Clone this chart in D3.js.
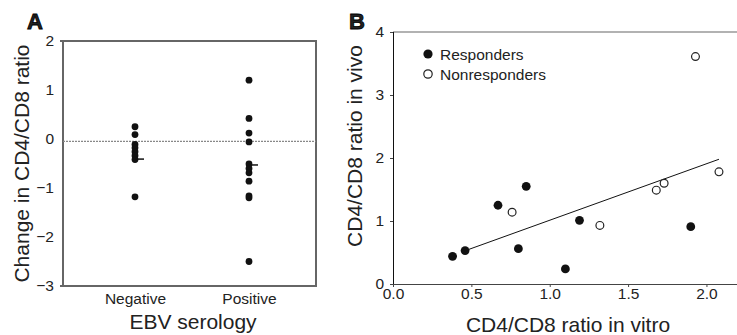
<!DOCTYPE html>
<html>
<head>
<meta charset="utf-8">
<script src="https://cdn.jsdelivr.net/npm/d3@7"></script>
<style>
  body { margin: 0; background: #fff; }
  text { font-family: "Liberation Sans", Arial, sans-serif; fill: #222; }
</style>
</head>
<body>
<script>
// Panneau A : variation du ratio CD4/CD8 selon la sérologie EBV
const categories = ['Negative', 'Positive'];
const negativeValues = [0.25, 0.09, -0.11, -0.18, -0.26, -0.34, -0.42, -1.18];
const positiveValues = [1.2, 0.42, 0.12, -0.06, -0.51, -0.6, -0.69, -0.86, -1.16, -1.2, -2.5];
const medians = [-0.41, -0.53];
const referenceLine = -0.05;
const yTicksA = [2, 1, 0, -1, -2, -3];

// Panneau B : ratio in vitro vs in vivo
const respondersX = [0.38, 0.46, 0.67, 0.80, 0.85, 1.10, 1.19, 1.90];
const respondersY = [0.44, 0.53, 1.25, 0.56, 1.55, 0.24, 1.01, 0.91];
const nonrespondersX = [0.76, 1.32, 1.68, 1.73, 2.08, 1.93];
const nonrespondersY = [1.14, 0.93, 1.49, 1.60, 1.78, 3.61];
const fitX = [0.44, 2.08];
const fitY = [0.51, 1.98];
const xTicksB = [0, 0.5, 1, 1.5, 2];
const yTicksB = [0, 1, 2, 3, 4];

const width = 737;
const height = 335;

const svg = d3.select('body')
  .append('svg')
  .attr('width', width)
  .attr('height', height);

// ---------- Panneau A ----------
const boxA = { left: 63, right: 316, top: 41, bottom: 286 };

const yA = d3.scaleLinear()
  .domain([-3, 2])
  .range([boxA.bottom, boxA.top]);

const xA = d3.scalePoint()
  .domain(categories)
  .range([135, 249]);

const gA = svg.append('g');

// cadre
gA.append('rect')
  .attr('x', boxA.left)
  .attr('y', boxA.top)
  .attr('width', boxA.right - boxA.left)
  .attr('height', boxA.bottom - boxA.top)
  .attr('fill', 'none')
  .attr('stroke', '#666')
  .attr('stroke-width', 2);

// petits traits aux extrémités
gA.selectAll('line.ext')
  .data([2, -3])
  .enter()
  .append('line')
  .attr('x1', boxA.left - 3)
  .attr('x2', boxA.left)
  .attr('y1', d => yA(d))
  .attr('y2', d => yA(d))
  .attr('stroke', '#666')
  .attr('stroke-width', 2);

// ligne pointillée de référence
gA.append('line')
  .attr('x1', boxA.left)
  .attr('x2', boxA.right)
  .attr('y1', yA(referenceLine))
  .attr('y2', yA(referenceLine))
  .attr('stroke', '#888')
  .attr('stroke-width', 1.2)
  .attr('stroke-dasharray', '2,1');

// axe vertical
gA.append('g')
  .attr('transform', `translate(${boxA.left}, 0)`)
  .call(d3.axisLeft(yA).tickValues(yTicksA).tickSize(0).tickPadding(9)
    .tickFormat(d => d < 0 ? '\u2212' + Math.abs(d) : d))
  .call(g => g.select('.domain').remove())
  .call(g => g.selectAll('text').style('font-size', '15.5px').attr('fill', '#222'));

// axe horizontal
gA.append('g')
  .attr('transform', `translate(0, ${boxA.bottom})`)
  .call(d3.axisBottom(xA).tickSize(0).tickPadding(7))
  .call(g => g.select('.domain').remove())
  .call(g => g.selectAll('text').style('font-size', '15.5px').attr('fill', '#222'));

// points
const pointsA = [
  ...negativeValues.map(v => ({ cat: 'Negative', v })),
  ...positiveValues.map(v => ({ cat: 'Positive', v }))
];

gA.append('g')
  .selectAll('circle')
  .data(pointsA)
  .enter()
  .append('circle')
  .attr('cx', d => xA(d.cat))
  .attr('cy', d => yA(d.v))
  .attr('r', 3.4)
  .attr('fill', '#111');

// médianes
gA.append('g')
  .selectAll('line')
  .data(categories)
  .enter()
  .append('line')
  .attr('x1', d => xA(d))
  .attr('x2', d => xA(d) + 9)
  .attr('y1', (d, i) => yA(medians[i]))
  .attr('y2', (d, i) => yA(medians[i]))
  .attr('stroke', '#111')
  .attr('stroke-width', 1.5);

// titres
gA.append('text')
  .attr('transform', `translate(29, ${(boxA.top + boxA.bottom) / 2}) rotate(-90)`)
  .attr('text-anchor', 'middle')
  .style('font-size', '21px')
  .text('Change in CD4/CD8 ratio');

gA.append('text')
  .attr('x', 193)
  .attr('y', 329)
  .attr('text-anchor', 'middle')
  .style('font-size', '21px')
  .text('EBV serology');

gA.append('text')
  .attr('x', 27)
  .attr('y', 29)
  .style('font-size', '22px')
  .style('font-weight', '900')
  .attr('fill', '#000')
  .attr('stroke', '#000')
  .attr('stroke-width', 0.8)
  .text('A');

// ---------- Panneau B ----------
const boxB = { left: 393, right: 737, top: 32, bottom: 284 };

const xB = d3.scaleLinear()
  .domain([0, 2.195])
  .range([boxB.left, boxB.right]);

const yB = d3.scaleLinear()
  .domain([0, 4])
  .range([boxB.bottom, boxB.top]);

const gB = svg.append('g');

// ligne du haut
gB.append('line')
  .attr('x1', boxB.left)
  .attr('x2', boxB.right)
  .attr('y1', boxB.top)
  .attr('y2', boxB.top)
  .attr('stroke', '#999')
  .attr('stroke-width', 1.5);

// axe horizontal
gB.append('g')
  .attr('transform', `translate(0, ${boxB.bottom})`)
  .call(d3.axisBottom(xB).tickValues(xTicksB).tickSize(3).tickPadding(1).tickFormat(d3.format('.1f')))
  .call(g => g.select('.domain').attr('stroke', '#444').attr('d', `M${boxB.left},0.5H${boxB.right}`))
  .call(g => g.selectAll('.tick line').attr('stroke', '#444'))
  .call(g => g.selectAll('text').style('font-size', '15.5px').attr('fill', '#222'));

// axe vertical
gB.append('g')
  .attr('transform', `translate(${boxB.left}, 0)`)
  .call(d3.axisLeft(yB).tickValues(yTicksB).tickSize(3).tickPadding(6).tickFormat(d3.format('d')))
  .call(g => g.select('.domain').attr('stroke', '#111').attr('d', `M0.5,${boxB.top}V${boxB.bottom}`))
  .call(g => g.selectAll('.tick line').attr('stroke', '#444'))
  .call(g => g.selectAll('text').style('font-size', '15.5px').attr('fill', '#222'));

// droite de régression
gB.append('line')
  .attr('x1', xB(fitX[0]))
  .attr('y1', yB(fitY[0]))
  .attr('x2', xB(fitX[1]))
  .attr('y2', yB(fitY[1]))
  .attr('stroke', '#111')
  .attr('stroke-width', 1);

// répondeurs (pleins)
gB.append('g')
  .selectAll('circle')
  .data(respondersX)
  .enter()
  .append('circle')
  .attr('cx', d => xB(d))
  .attr('cy', (d, i) => yB(respondersY[i]))
  .attr('r', 4.4)
  .attr('fill', '#111');

// non-répondeurs (vides)
gB.append('g')
  .selectAll('circle')
  .data(nonrespondersX)
  .enter()
  .append('circle')
  .attr('cx', d => xB(d))
  .attr('cy', (d, i) => yB(nonrespondersY[i]))
  .attr('r', 3.9)
  .attr('fill', '#fff')
  .attr('stroke', '#222')
  .attr('stroke-width', 1.2);

// légende
const legend = gB.append('g');
legend.append('circle')
  .attr('cx', 428).attr('cy', 54).attr('r', 4.6).attr('fill', '#111');
legend.append('text')
  .attr('x', 440).attr('y', 59.5)
  .style('font-size', '15.5px')
  .text('Responders');
legend.append('circle')
  .attr('cx', 428).attr('cy', 74).attr('r', 4.2)
  .attr('fill', '#fff').attr('stroke', '#222').attr('stroke-width', 1.2);
legend.append('text')
  .attr('x', 440).attr('y', 79.5)
  .style('font-size', '15.5px')
  .text('Nonresponders');

// titres
gB.append('text')
  .attr('transform', `translate(362, ${(boxB.top + boxB.bottom) / 2 - 12}) rotate(-90)`)
  .attr('text-anchor', 'middle')
  .style('font-size', '21px')
  .text('CD4/CD8 ratio in vivo');

gB.append('text')
  .attr('x', 568)
  .attr('y', 332)
  .attr('text-anchor', 'middle')
  .style('font-size', '21px')
  .text('CD4/CD8 ratio in vitro');

gB.append('text')
  .attr('x', 349)
  .attr('y', 29)
  .style('font-size', '22px')
  .style('font-weight', '900')
  .attr('fill', '#000')
  .attr('stroke', '#000')
  .attr('stroke-width', 0.8)
  .text('B');
</script>
</body>
</html>
